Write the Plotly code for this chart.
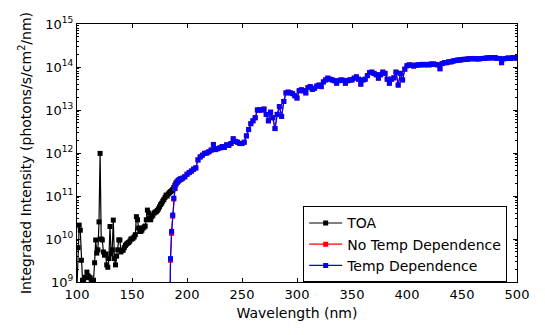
import plotly.graph_objects as go

# ---- data ----
toa_wl = [100, 101, 102, 103, 104, 105, 106, 107, 108, 109, 110, 111, 112, 113, 114, 115,
          116, 117, 118, 119, 120, 121, 122, 123, 124, 125, 126, 127, 128, 129, 130, 131,
          132, 133, 134, 135, 136, 137, 138, 139, 140, 141, 142, 143, 144, 145, 146, 147,
          148, 149, 150, 151, 152, 153, 154, 155, 156, 157, 158, 159, 160, 161, 162, 163,
          164, 165, 166, 167, 168, 169, 170, 171, 172, 173, 174, 175, 176, 177, 178, 179,
          180, 181, 182, 183, 184, 185, 186, 187, 188, 189, 190, 191, 192, 193, 194, 195]
toa_val = [8e8, 6.3e9, 2.1e10, 1.6e10, 3.2e9, 1.1e9, 1.0e9, 1.26e9, 1.3e9, 1.7e9, 1.4e9, 1.3e9,
           1.25e9, 1.1e9, 1.0e9, 1.1e9, 2.8e9, 9.5e9, 4.7e9, 5.6e9, 2.5e10, 9.8e11, 1.0e10,
           9.5e9, 5.0e9, 4.2e9, 4.5e9, 2.5e9, 2.2e9, 3.5e9, 1.95e10, 4.5e9, 5.6e9, 2.75e10,
           3.5e9, 2.5e9, 4.0e9, 5.6e9, 9.5e9, 9.5e9, 5.0e9, 5.5e9, 5.5e9, 6.3e9, 7.1e9, 7.6e9,
           8.0e9, 8.3e9, 8.9e9, 1.0e10, 1.0e10, 1.05e10, 1.12e10, 1.26e10, 3.3e10, 2.8e10,
           1.8e10, 1.5e10, 1.5e10, 1.6e10, 1.8e10, 1.9e10, 2.0e10, 2.8e10, 4.7e10, 4.0e10,
           3.0e10, 2.8e10, 3.3e10, 3.6e10, 4.0e10, 4.2e10, 4.3e10, 4.6e10, 5.0e10, 5.6e10,
           6.3e10, 6.8e10, 7.6e10, 8.3e10, 9.3e10, 1.05e11, 1.0e11, 1.12e11, 1.2e11, 1.26e11,
           1.32e11, 1.41e11, 1.58e11, 1.78e11, 2.0e11, 2.1e11, 2.2e11, 2.35e11, 2.4e11, 2.5e11]

mod_wl = [184, 185, 186, 187, 188, 189, 190, 191, 192, 193, 194, 196, 198, 200, 202, 204, 206,
          208, 210, 212, 214, 216, 218, 220, 222, 224, 226, 228, 230, 232, 234, 236, 238, 240,
          242, 244, 246, 248, 250, 252, 254, 256, 258, 260, 262, 264, 266, 268, 270, 272, 274,
          276, 278, 280, 282, 284, 286, 288, 290, 292, 294, 296, 298, 300, 302, 304, 306, 308,
          310, 312, 314, 316, 318, 320, 322, 324, 326, 328, 330, 332, 334, 336, 338, 340, 342,
          344, 346, 348, 350, 352, 354, 356, 358, 360, 362, 364, 366, 368, 370, 372, 374, 376,
          378, 380, 382, 384, 386, 388, 390, 392, 394, 396, 398, 400, 402, 404, 406, 408, 410,
          412, 414, 416, 418, 420, 422, 424, 426, 428, 430, 432, 434, 436, 438, 440, 442, 444,
          446, 448, 450, 452, 454, 456, 458, 460, 462, 464, 466, 468, 470, 472, 474, 476, 478,
          480, 482, 484, 486, 488, 490, 492, 494, 496, 498, 500]
temp_val = [1e7, 3.5e9, 1.5e10, 3.6e10, 8.9e10, 1.5e11, 1.9e11, 2.1e11, 2.3e11, 2.4e11, 2.5e11,
            2.6e11, 2.8e11, 3.2e11, 3.5e11, 3.8e11, 4.2e11, 4.5e11, 6.9e11, 8.1e11, 8.9e11,
            9.8e11, 1.0e12, 1.07e12, 1.17e12, 1.58e12, 1.2e12, 1.26e12, 1.32e12, 1.41e12,
            1.35e12, 1.55e12, 1.51e12, 1.66e12, 2.14e12, 1.86e12, 1.78e12, 1.66e12, 1.66e12,
            1.78e12, 2.5e12, 3.5e12, 4.8e12, 5.6e12, 6.6e12, 1.0e13, 1.0e13, 1.0e13, 1.05e13,
            7.9e12, 5.6e12, 8.9e12, 6.6e12, 3.7e12, 7.9e12, 1.2e13, 7.1e12, 1.58e13, 2.5e13,
            2.6e13, 2.5e13, 2.4e13, 2.14e13, 1.9e13, 2.8e13, 2.95e13, 2.8e13, 2.5e13, 3.3e13,
            3.5e13, 3.0e13, 3.2e13, 3.6e13, 3.8e13, 3.5e13, 4.5e13, 5.0e13, 5.5e13, 5.2e13,
            5.0e13, 4.8e13, 4.2e13, 4.8e13, 5.0e13, 4.9e13, 4.2e13, 4.8e13, 5.0e13, 5.0e13,
            5.5e13, 5.9e13, 5.2e13, 4.0e13, 5.0e13, 5.2e13, 6.3e13, 7.4e13, 7.6e13, 7.1e13,
            6.6e13, 5.5e13, 6.6e13, 7.6e13, 7.1e13, 5.2e13, 4.2e13, 5.2e13, 5.6e13, 7.6e13,
            3.8e13, 7.1e13, 5.0e13, 8.9e13, 1.07e14, 1.12e14, 1.1e14, 1.05e14, 1.1e14, 1.12e14,
            1.12e14, 1.15e14, 1.12e14, 1.15e14, 1.12e14, 1.17e14, 1.17e14, 1.15e14, 1.12e14,
            9.1e13, 1.2e14, 1.26e14, 1.26e14, 1.32e14, 1.32e14, 1.38e14, 1.41e14, 1.45e14,
            1.45e14, 1.48e14, 1.51e14, 1.51e14, 1.55e14, 1.55e14, 1.58e14, 1.55e14, 1.55e14,
            1.55e14, 1.58e14, 1.58e14, 1.62e14, 1.62e14, 1.66e14, 1.62e14, 1.66e14, 1.58e14,
            1.58e14, 1.26e14, 1.55e14, 1.58e14, 1.62e14, 1.58e14, 1.66e14, 1.62e14, 1.62e14]
notemp_head = [1e7, 3.2e9, 1.35e10, 3.4e10, 8.5e10, 1.48e11]

notemp_val = notemp_head + temp_val[len(notemp_head):]

y_ticks = [1e9, 1e10, 1e11, 1e12, 1e13, 1e14, 1e15]
y_ticktext = ["10<sup>9</sup>", "10<sup>10</sup>", "10<sup>11</sup>", "10<sup>12</sup>",
              "10<sup>13</sup>", "10<sup>14</sup>", "10<sup>15</sup>"]
x_ticks = [100, 150, 200, 250, 300, 350, 400, 450, 500]

minor_y = [m * 10 ** e for e in range(9, 15) for m in range(2, 10)]

FONT = "DejaVu Sans"

fig = go.Figure()
for name, xs, ys, col in [("TOA", toa_wl, toa_val, "#000000"),
                          ("No Temp Dependence", mod_wl, notemp_val, "#ff0000"),
                          ("Temp Dependence", mod_wl, temp_val, "#0000ff")]:
    fig.add_trace(go.Scatter(
        x=xs, y=ys, name=name, mode="lines+markers",
        line=dict(color=col, width=1.2),
        marker=dict(symbol="square", size=5, color=col, line=dict(width=0)),
        cliponaxis=True,
    ))

fig.update_layout(
    width=545, height=335,
    margin=dict(l=77, r=28, t=24, b=53, autoexpand=False),
    paper_bgcolor="white", plot_bgcolor="white",
    font=dict(family=FONT, size=13, color="black"),
    showlegend=True,
    legend=dict(x=0.514, y=0.293, xanchor="left", yanchor="top",
                bordercolor="black", borderwidth=1, bgcolor="white",
                font=dict(family=FONT, size=14), tracegroupgap=0,
                itemwidth=33),
)
fig.update_xaxes(
    range=[100, 500], tickvals=x_ticks, ticks="inside", ticklen=4, tickcolor="black",
    showline=True, linecolor="black", linewidth=1, mirror="allticks",
    showgrid=False, zeroline=False,
    title=dict(text="Wavelength (nm)", font=dict(family=FONT, size=14), standoff=7),
    tickfont=dict(family=FONT, size=13),
)
fig.update_yaxes(
    type="log", range=[9, 15], tickvals=y_ticks, ticktext=y_ticktext,
    ticks="inside", ticklen=4, tickcolor="black",
    minor=dict(tickvals=minor_y, ticks="inside", ticklen=2, tickcolor="black", showgrid=False),
    showline=True, linecolor="black", linewidth=1, mirror="allticks",
    showgrid=False, zeroline=False,
    title=dict(text="Integrated Intensity (photons/s/cm<sup>2</sup>/nm)",
               font=dict(family=FONT, size=14), standoff=10),
    tickfont=dict(family=FONT, size=13),
)

fig.write_html("out.html", config={"displayModeBar": False},
               post_script="document.body.style.margin='0';document.body.style.padding='0';")
